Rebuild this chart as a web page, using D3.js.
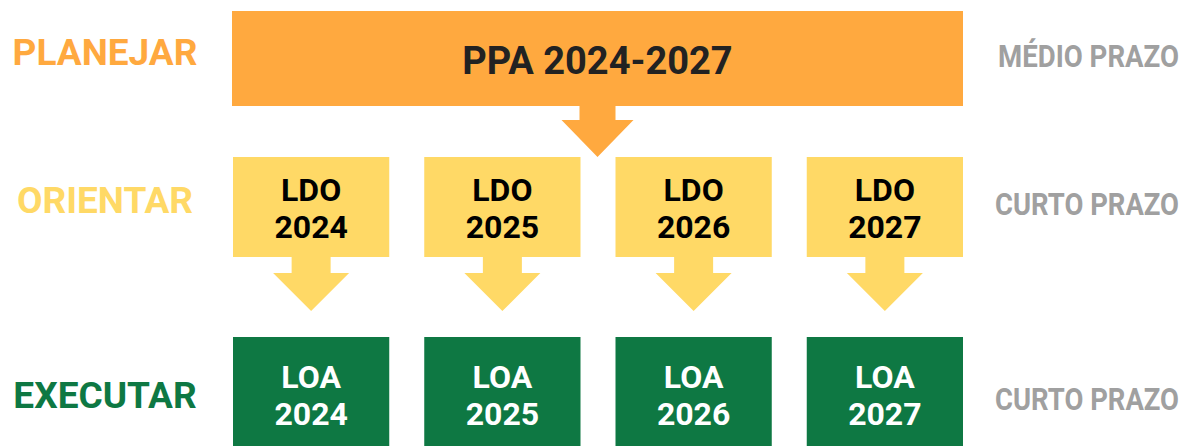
<!DOCTYPE html>
<html>
<head>
<meta charset="utf-8">
<script src="https://cdn.jsdelivr.net/npm/d3@7"></script>
<style>
  html, body { margin: 0; padding: 0; background: #fff; }
  svg { display: block; font-family: Roboto, "Noto Sans", sans-serif; font-weight: 700; }
</style>
</head>
<body>
<svg></svg>
<script>
// data
var stages = ['PLANEJAR', 'ORIENTAR', 'EXECUTAR'];
var horizons = ['MÉDIO PRAZO', 'CURTO PRAZO', 'CURTO PRAZO'];
var years = ['2024', '2025', '2026', '2027'];
var planLabel = 'PPA 2024-2027';
var ldoLabels = ['LDO', 'LDO', 'LDO', 'LDO'];
var loaLabels = ['LOA', 'LOA', 'LOA', 'LOA'];

var width = 1184, height = 446;
var svg = d3.select('svg').attr('width', width).attr('height', height);

var colors = { plan: '#ffa93f', orient: '#ffd966', exec: '#0e7843', grey: '#a0a0a0', dark: '#222222' };
var stageColors = [colors.plan, colors.orient, colors.exec];

// row layout (top / bottom of each stage)
var rows = [ {top: 11, bottom: 106}, {top: 157, bottom: 257}, {top: 337, bottom: 446} ];
var labelBase = [65, 213, 408];

var x = d3.scaleBand()
  .domain(years)
  .range([233, 963])
  .paddingInner(0.183)
  .paddingOuter(0);

function arrow(cx, top, stemBottom, tip, stemHalf, headHalf) {
  var p = d3.path();
  p.moveTo(cx - stemHalf, top);
  p.lineTo(cx + stemHalf, top);
  p.lineTo(cx + stemHalf, stemBottom);
  p.lineTo(cx + headHalf, stemBottom);
  p.lineTo(cx, tip);
  p.lineTo(cx - headHalf, stemBottom);
  p.lineTo(cx - stemHalf, stemBottom);
  p.closePath();
  return p.toString();
}

// PPA block
var ppaX0 = x.range()[0] - 1, ppaX1 = x.range()[1];
var ppaCx = (ppaX0 + ppaX1) / 2;
svg.append('rect')
  .attr('x', ppaX0).attr('y', rows[0].top)
  .attr('width', ppaX1 - ppaX0).attr('height', rows[0].bottom - rows[0].top)
  .attr('fill', colors.plan);
svg.append('path')
  .attr('d', arrow(ppaCx, rows[0].bottom - 1, 120, rows[1].top, 18, 36))
  .attr('fill', colors.plan);
svg.append('text')
  .attr('x', ppaCx).attr('y', 74)
  .attr('text-anchor', 'middle')
  .attr('font-size', 38)
  .attr('fill', colors.dark)
  .text(planLabel);

// LDO blocks with arrows
var ldo = svg.append('g').selectAll('g').data(years).enter().append('g');
ldo.append('path')
  .attr('d', function(d) { var cx = x(d) + x.bandwidth() / 2; return arrow(cx, rows[1].bottom - 1, 273, 311, 19.5, 38); })
  .attr('fill', colors.orient);
ldo.append('rect')
  .attr('x', function(d) { return x(d); })
  .attr('y', rows[1].top)
  .attr('width', x.bandwidth())
  .attr('height', rows[1].bottom - rows[1].top)
  .attr('fill', colors.orient);
ldo.append('text')
  .attr('x', function(d) { return x(d) + x.bandwidth() / 2; })
  .attr('y', 201)
  .attr('text-anchor', 'middle').attr('font-size', 32).attr('fill', '#000')
  .text(function(d, i) { return ldoLabels[i]; });
ldo.append('text')
  .attr('x', function(d) { return x(d) + x.bandwidth() / 2; })
  .attr('y', 238)
  .attr('text-anchor', 'middle').attr('font-size', 32).attr('fill', '#000')
  .text(function(d) { return d; });

// LOA blocks
var loa = svg.append('g').selectAll('g').data(years).enter().append('g');
loa.append('rect')
  .attr('x', function(d) { return x(d); })
  .attr('y', rows[2].top)
  .attr('width', x.bandwidth())
  .attr('height', rows[2].bottom - rows[2].top)
  .attr('fill', colors.exec);
loa.append('text')
  .attr('x', function(d) { return x(d) + x.bandwidth() / 2; })
  .attr('y', 388)
  .attr('text-anchor', 'middle').attr('font-size', 32).attr('fill', '#fff')
  .text(function(d, i) { return loaLabels[i]; });
loa.append('text')
  .attr('x', function(d) { return x(d) + x.bandwidth() / 2; })
  .attr('y', 425)
  .attr('text-anchor', 'middle').attr('font-size', 32).attr('fill', '#fff')
  .text(function(d) { return d; });

// stage labels (left)
svg.append('g').selectAll('text').data(stages).enter().append('text')
  .attr('x', 105)
  .attr('y', function(d, i) { return labelBase[i]; })
  .attr('text-anchor', 'middle')
  .attr('font-size', 37)
  .attr('fill', function(d, i) { return stageColors[i]; })
  .text(function(d) { return d; });

// horizon labels (right) - condensed by a horizontal squeeze
svg.append('g').selectAll('text').data(horizons).enter().append('text')
  .attr('text-anchor', 'end')
  .attr('font-size', 31)
  .attr('fill', colors.grey)
  .text(function(d) { return d; })
  .attr('transform', function(d, i) {
    var target = i === 0 ? 181 : 184;
    var k = target / this.getComputedTextLength();
    return 'translate(1179,' + (labelBase[i] + 2) + ') scale(' + k + ',1)';
  });
</script>
</body>
</html>
